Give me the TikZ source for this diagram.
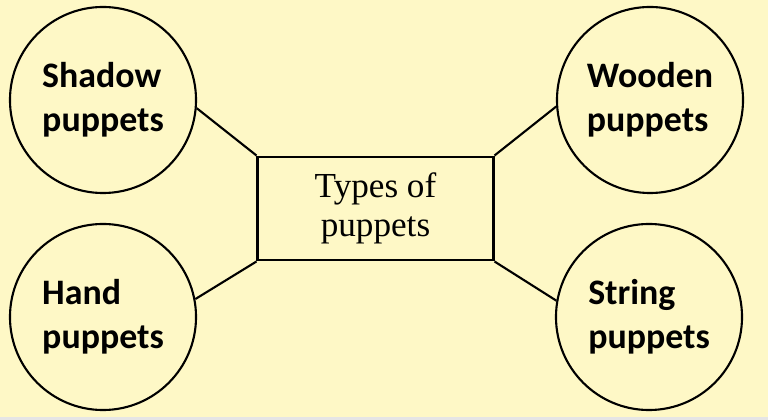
\documentclass[tikz,border=0pt]{standalone}
\usepackage{fontspec}
\setmainfont{Liberation Serif}
\newfontfamily\puppetfont{Carlito}
\usetikzlibrary{positioning}
\definecolor{paper}{RGB}{254,248,198}

\begin{document}
\begin{tikzpicture}[x=0.025cm, y=0.025cm,
    kind/.style={circle, draw, line width=1.5pt, minimum size=4.65cm, inner sep=0pt, align=left,
        font={\puppetfont\bfseries\fontsize{25.5}{31}\selectfont}},
    hub/.style={rectangle, draw, line width=2.1pt, minimum width=5.875cm, minimum height=2.575cm,
        inner sep=0pt, align=center, font={\fontsize{25}{27.5}\selectfont}}]
    \fill[paper] (0, 0) rectangle (768, 420);
    \fill[black!10] (0, 0) rectangle (768, 2.5);

    \node[hub] (types) at (375.5, 211.5) {Types of\\puppets};
    \node[kind] (shadow) at (103, 320) {Shadow\\puppets};
    \node[kind] (hand) at (103, 103) {Hand\\puppets};
    \node[kind] (wooden) at (650, 320) {Wooden\\puppets};
    \node[kind] (string) at (649, 103) {String\\puppets};

    \draw[line width=1.5pt]
    (types.north west) edge (shadow.-5)
    (types.south west) edge (hand.11)
    (types.north east) edge (wooden.184)
    (types.south east) edge (string.170);
\end{tikzpicture}
\end{document}
